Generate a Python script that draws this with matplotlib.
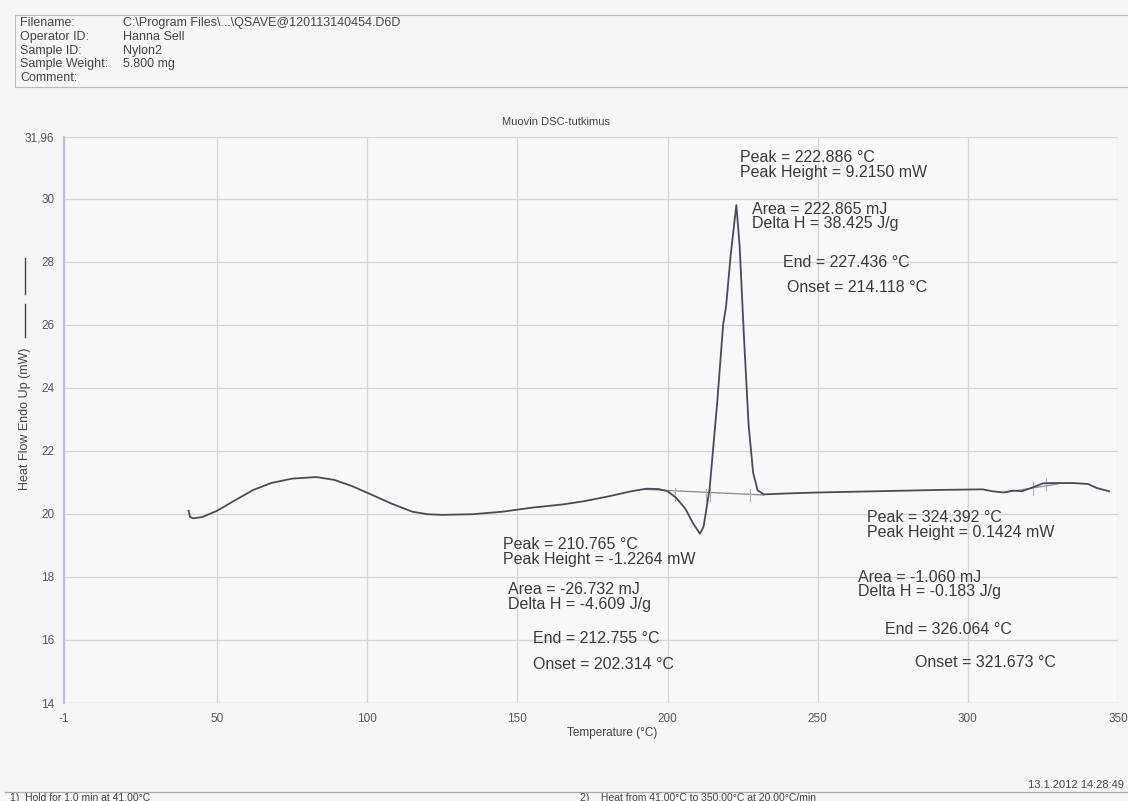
import matplotlib
matplotlib.use("Agg")
import matplotlib.pyplot as plt
from matplotlib.lines import Line2D

plt.rcParams['font.family'] = ['Liberation Sans', 'DejaVu Sans']
plt.rcParams['axes.unicode_minus'] = False

# DSC heating scan, Nylon2
temp = [40.5, 41.0, 42.0, 45.0, 50.0, 55.0, 62.0, 68.0, 75.0, 83.0, 89.0, 95.0,
        100.0, 108.0, 115.0, 120.0, 125.0, 135.0, 145.0, 155.0, 165.0, 172.0,
        180.0, 188.0, 193.0, 197.0, 200.0, 203.0, 206.0, 208.5, 210.8, 212.0,
        214.0, 216.5, 218.5, 219.5, 221.0, 222.9, 224.0, 225.5, 227.0, 228.5,
        230.0, 232.0, 240.0, 250.0, 270.0, 290.0, 305.0, 308.0, 312.0, 315.0,
        318.0, 321.0, 325.0, 328.0, 335.0, 340.0, 343.0, 347.0]
heat_flow = [20.10, 19.90, 19.86, 19.90, 20.10, 20.38, 20.76, 20.98, 21.12, 21.17,
             21.08, 20.88, 20.67, 20.33, 20.07, 19.99, 19.97, 19.99, 20.07, 20.20,
             20.30, 20.40, 20.55, 20.72, 20.80, 20.79, 20.72, 20.50, 20.15, 19.70,
             19.37, 19.60, 20.80, 23.50, 26.00, 26.60, 28.20, 29.80, 28.50, 25.50,
             22.80, 21.30, 20.75, 20.62, 20.65, 20.68, 20.72, 20.76, 20.78, 20.72,
             20.68, 20.74, 20.72, 20.82, 20.97, 20.98, 20.98, 20.95, 20.82, 20.72]

# integration baselines
base1_t = [192.0, 232.0]
base1_v = [20.78, 20.60]
base2_t = [312.0, 330.0]
base2_v = [20.68, 20.95]

# onset / end temperatures
event_t = [202.314, 212.755, 214.118, 227.436, 321.673, 326.064]
event_v = [20.62, 20.60, 20.60, 20.60, 20.80, 20.95]

x_ticks = [-1, 50, 100, 150, 200, 250, 300, 350]
y_ticks = [14, 16, 18, 20, 22, 24, 26, 28, 30, 31.96]
y_labels = ["14", "16", "18", "20", "22", "24", "26", "28", "30", "31,96"]

# peak results (text, x, y)
results = [
    ("Peak = 222.886 °C\nPeak Height = 9.2150 mW", 224.1, 31.06),
    ("Area = 222.865 mJ\nDelta H = 38.425 J/g", 228.1, 29.44),
    ("End = 227.436 °C", 238.4, 27.97),
    ("Onset = 214.118 °C", 239.8, 27.17),
    ("Peak = 210.765 °C\nPeak Height = -1.2264 mW", 145.2, 18.79),
    ("Area = -26.732 mJ\nDelta H = -4.609 J/g", 146.9, 17.37),
    ("End = 212.755 °C", 155.2, 16.06),
    ("Onset = 202.314 °C", 155.2, 15.21),
    ("Peak = 324.392 °C\nPeak Height = 0.1424 mW", 266.4, 19.65),
    ("Area = -1.060 mJ\nDelta H = -0.183 J/g", 263.4, 17.76),
    ("End = 326.064 °C", 272.4, 16.32),
    ("Onset = 321.673 °C", 282.4, 15.30),
]

header_keys = ["Filename:", "Operator ID:", "Sample ID:", "Sample Weight:", "Comment:"]
header_vals = ["C:\\Program Files\\...\\QSAVE@120113140454.D6D", "Hanna Sell", "Nylon2",
               "5.800 mg", ""]

W, H = 1128, 801
fig = plt.figure(figsize=(W / 100, H / 100), dpi=100)
fig.patch.set_facecolor('#f6f6f6')

ax = fig.add_axes([64 / W, 1 - 703 / H, 1054 / W, 566 / H])
ax.set_facecolor('#f8f8f8')
ax.set_xlim(-1, 350)
ax.set_ylim(14, 31.96)
ax.set_xticks(x_ticks)
ax.set_yticks(y_ticks, y_labels)
ax.tick_params(length=0, labelsize=8.5, labelcolor='#555555', pad=7)
ax.grid(True, color='#d4d4d4', linewidth=0.9)
for s in ['top', 'right', 'bottom']:
    ax.spines[s].set_visible(False)
ax.spines['left'].set_color('#c9b8d8')
ax.spines['left'].set_linewidth(1.6)
ax.axhline(14, color='#cfcfcf', linewidth=0.9)

ax.plot(base1_t, base1_v, color='#8a8a8a', linewidth=0.9)
ax.plot(base2_t, base2_v, color='#8090a8', linewidth=0.9)
for t, v in zip(event_t, event_v):
    ax.plot([t, t], [v - 0.2, v + 0.2], color='#b0b0b0', linewidth=0.8)
ax.plot(temp, heat_flow, color='#4a4a58', linewidth=1.3)

for txt, x, y in results:
    ax.text(x, y, txt, fontsize=11.5, color='#3a3a3a', va='center', ha='left',
            linespacing=0.98)

fig.text(556 / W, 1 - 122 / H, "Muovin DSC-tutkimus", fontsize=8, color='#444444',
         ha='center', va='center')
fig.text(612 / W, 1 - 733 / H, "Temperature (°C)", fontsize=8.5, color='#444444',
         ha='center', va='center')
fig.text(25 / W, 1 - 419 / H, "Heat Flow Endo Up (mW)", fontsize=9, color='#444444',
         rotation=90, ha='center', va='center')
for y0, y1 in [(258, 294), (304, 337)]:
    fig.add_artist(Line2D([25 / W, 25 / W], [1 - y1 / H, 1 - y0 / H], color='#444444',
                          linewidth=1.0))

# header block
fig.add_artist(Line2D([15 / W, 1128 / W], [1 - 15 / H, 1 - 15 / H], color='#bbbbbb', linewidth=0.8))
fig.add_artist(Line2D([15 / W, 15 / W], [1 - 15 / H, 1 - 87 / H], color='#bbbbbb', linewidth=0.8))
fig.add_artist(Line2D([15 / W, 1128 / W], [1 - 87 / H, 1 - 87 / H], color='#bbbbbb', linewidth=0.8))
for i, (k, v) in enumerate(zip(header_keys, header_vals)):
    yy = 1 - (23 + i * 13.8) / H
    fig.text(20 / W, yy, k, fontsize=9, color='#444444', va='center')
    fig.text(123 / W, yy, v, fontsize=9, color='#444444', va='center')

# footer
fig.text(1124 / W, 1 - 785 / H, "13.1.2012 14:28:49", fontsize=8, color='#444444',
         ha='right', va='center')
fig.add_artist(Line2D([5 / W, 1128 / W], [1 - 792 / H, 1 - 792 / H], color='#aaaaaa', linewidth=0.9))
fig.text(10 / W, 1 - 798 / H, "1)  Hold for 1.0 min at 41.00°C", fontsize=7.5, color='#444444',
         va='center')
fig.text(580 / W, 1 - 798 / H, "2)    Heat from 41.00°C to 350.00°C at 20.00°C/min", fontsize=7.5,
         color='#444444', va='center')

fig.savefig("out.png", dpi=100, facecolor=fig.get_facecolor())
